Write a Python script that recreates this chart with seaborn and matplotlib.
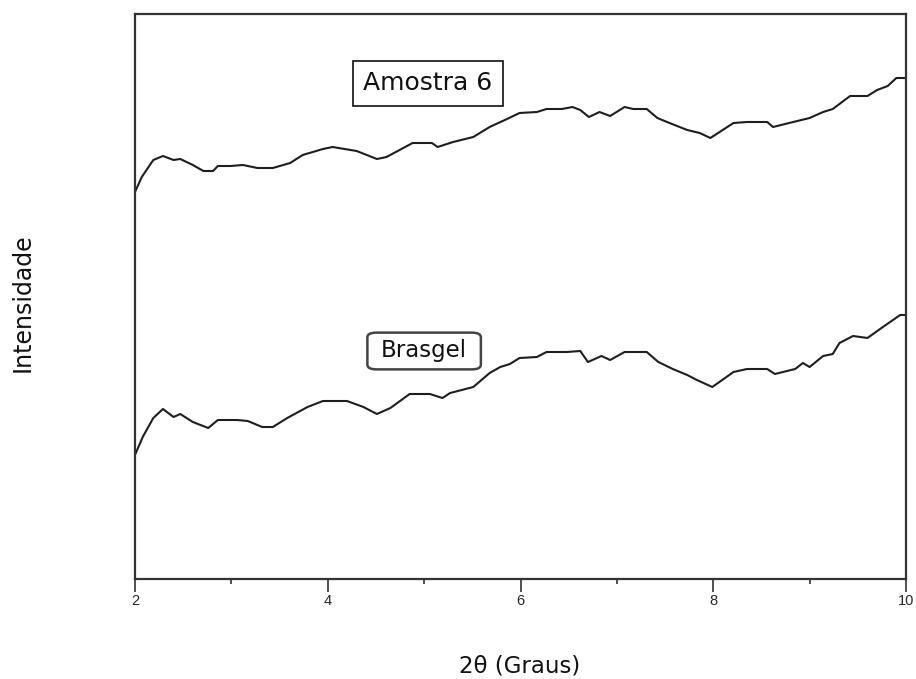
import matplotlib
matplotlib.use("Agg")
import matplotlib.pyplot as plt
import seaborn as sns
import pandas as pd
from matplotlib.ticker import MultipleLocator

# ---- data (2theta in degrees, intensity in arbitrary units) ----
amostra_x = [2.00, 2.07, 2.19, 2.29, 2.40, 2.47, 2.60, 2.71, 2.81, 2.86, 2.99, 3.12,
             3.27, 3.43, 3.61, 3.74, 3.95, 4.05, 4.30, 4.51, 4.61, 4.88, 5.08, 5.14,
             5.30, 5.51, 5.68, 5.86, 5.99, 6.17, 6.27, 6.43, 6.54, 6.62, 6.71, 6.82,
             6.93, 7.08, 7.17, 7.31, 7.42, 7.52, 7.73, 7.86, 7.97, 8.21, 8.35, 8.56,
             8.62, 8.83, 9.00, 9.14, 9.24, 9.42, 9.60, 9.70, 9.81, 9.90, 10.00]
amostra_y = [387, 402, 419, 423, 419, 420, 414, 408, 408, 413, 413, 414,
             411, 411, 416, 424, 430, 432, 428, 420, 422, 436, 436, 432,
             437, 442, 452, 460, 466, 467, 470, 470, 472, 469, 462, 467,
             463, 472, 470, 470, 461, 457, 449, 446, 441, 456, 457, 457,
             452, 457, 461, 467, 470, 483, 483, 489, 493, 501, 501]

brasgel_x = [2.00, 2.08, 2.19, 2.29, 2.40, 2.47, 2.60, 2.76, 2.86, 3.06, 3.17, 3.32,
             3.43, 3.58, 3.79, 3.95, 4.20, 4.37, 4.51, 4.65, 4.85, 5.06, 5.19, 5.27,
             5.51, 5.68, 5.79, 5.89, 5.99, 6.17, 6.27, 6.48, 6.62, 6.70, 6.84, 6.93,
             7.08, 7.31, 7.43, 7.58, 7.73, 7.83, 7.99, 8.21, 8.35, 8.56, 8.64, 8.85,
             8.93, 9.00, 9.14, 9.24, 9.31, 9.45, 9.60, 9.76, 9.94, 10.00]
brasgel_y = [124, 142, 161, 170, 162, 165, 157, 151, 159, 159, 158, 152,
             152, 161, 172, 178, 178, 172, 165, 171, 185, 185, 181, 186,
             192, 206, 212, 215, 221, 222, 227, 227, 228, 217, 223, 219,
             227, 227, 217, 210, 204, 199, 192, 207, 210, 210, 205, 210,
             216, 212, 223, 225, 236, 243, 241, 252, 264, 264]

x_ticks = [2, 4, 6, 8, 10]
x_label = "2θ (Graus)"
y_label = "Intensidade"
label_amostra = "Amostra 6"
label_brasgel = "Brasgel"

df_a = pd.DataFrame({"x": amostra_x, "y": amostra_y})
df_b = pd.DataFrame({"x": brasgel_x, "y": brasgel_y})

sns.set_theme(style="white")
plt.rcParams["font.family"] = ["Liberation Sans", "DejaVu Sans"]
wide = ["DejaVu Sans"]

fig = plt.figure(figsize=(9.16, 6.79), dpi=100)
ax = fig.add_axes([135 / 916, 1 - 579 / 679, 771 / 916, 565 / 679])

line_color = "#1e1e1e"
sns.lineplot(data=df_a, x="x", y="y", ax=ax, color=line_color, linewidth=1.5,
             estimator=None, sort=False)
sns.lineplot(data=df_b, x="x", y="y", ax=ax, color=line_color, linewidth=1.5,
             estimator=None, sort=False)

ax.set_xlim(2, 10)
ax.set_ylim(0, 565)
ax.set_xticks(x_ticks)
ax.set_xticklabels([str(t) for t in x_ticks])
ax.xaxis.set_minor_locator(MultipleLocator(1))
ax.set_yticks([])
ax.set_xlabel("")
ax.set_ylabel("")

for s in ax.spines.values():
    s.set_visible(True)
    s.set_color("#333333")
    s.set_linewidth(1.6)

ax.tick_params(axis="x", which="major", direction="out", length=9, width=1.1,
               color="#222222", labelsize=10.5, pad=2, bottom=True)
ax.tick_params(axis="x", which="minor", direction="out", length=3.5, width=1.1,
               color="#222222", bottom=True)

ax.text(5.04, 579 - 83.5, label_amostra, fontsize=18, ha="center", va="center",
        color="#111111", family=wide,
        bbox=dict(boxstyle="square,pad=0.42", facecolor="white",
                  edgecolor="#111111", linewidth=1.2))
ax.text(5.00, 579 - 351, label_brasgel, fontsize=16.5, ha="center", va="center",
        color="#111111", family=wide,
        bbox=dict(boxstyle="round,pad=0.6,rounding_size=0.4", facecolor="white",
                  edgecolor="#444444", linewidth=1.8, mutation_aspect=0.5))

fig.text(520 / 916, 1 - 666 / 679, x_label, fontsize=16.5, ha="center", va="center",
         color="#111111", family=wide)
fig.text(23 / 916, 1 - 303 / 679, y_label, fontsize=17, ha="center", va="center",
         rotation=90, color="#111111", family=wide)

fig.savefig("out.png", dpi=100)
